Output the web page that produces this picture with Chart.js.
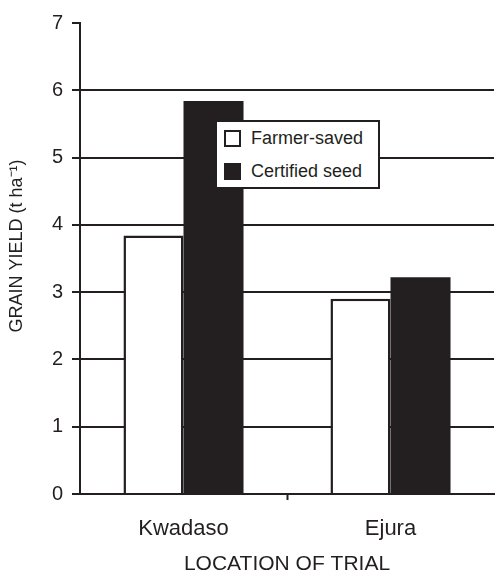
<!DOCTYPE html>
<html>
<head>
<meta charset="utf-8">
<script src="https://cdn.jsdelivr.net/npm/chart.js@4.4.1/dist/chart.umd.min.js"></script>
<style>
  html, body { margin:0; padding:0; background:#fff; }
  #wrap { position:relative; width:495px; height:573px; overflow:hidden; }
  .legend { position:absolute; left:215px; top:120px; width:161px; height:65px; border:2px solid #231f20; background:#fff;
    font-family:"Liberation Sans", Arial, sans-serif; font-size:18px; color:#231f20; }
  .legend-row { position:absolute; left:7px; height:17px; display:flex; align-items:center; white-space:nowrap; }
  .swatch { width:13px; height:13px; border:2px solid #231f20; margin-right:10px; box-sizing:content-box; }
  .swatch.filled { background:#231f20; }
</style>
</head>
<body>
<div id="wrap">
  <canvas id="chart" width="495" height="573"></canvas>
  <div class="legend">
    <div class="legend-row" style="top:8px"><span class="swatch"></span><span id="lg0"></span></div>
    <div class="legend-row" style="top:41px"><span class="swatch filled"></span><span id="lg1"></span></div>
  </div>
</div>
<script>
// Rendimento de grão por local de ensaio
const LOCAIS = ['Kwadaso', 'Ejura'];
const SERIES = ['Farmer-saved', 'Certified seed'];
const FARMER_SAVED = [3.84, 2.90];
const CERTIFIED = [5.84, 3.22];
const Y_TICKS = [0, 1, 2, 3, 4, 5, 6, 7];

(function() {
  const INK = '#231f20';
  const FONT = '"Liberation Sans", Arial, sans-serif';

  document.getElementById('lg0').textContent = SERIES[0];
  document.getElementById('lg1').textContent = SERIES[1];

  // espaços à frente empurram o título rotacionado um pouco pra cima, como no original
  const yTitle = '\u00A0\u00A0\u00A0\u00A0\u00A0GRAIN YIELD (t ha\u207B\u00B9)';

  const canvas = document.getElementById('chart');
  new Chart(canvas, {
    type: 'bar',
    data: {
      labels: LOCAIS,
      datasets: [
        { label: SERIES[0], data: FARMER_SAVED, backgroundColor: '#ffffff', borderColor: INK, borderWidth: 2.5,
          categoryPercentage: 0.58, barPercentage: 1 },
        { label: SERIES[1], data: CERTIFIED, backgroundColor: INK, borderColor: INK, borderWidth: 0,
          categoryPercentage: 0.58, barPercentage: 1 }
      ]
    },
    options: {
      responsive: false, animation: false,
      layout: { padding: { top: 23, right: 1, left: 0, bottom: 0 } },
      plugins: { legend: { display: false }, tooltip: { enabled: false } },
      scales: {
        x: {
          afterFit: s => { s.height = 79; },
          border: { display: true, color: INK, width: 2 },
          grid: { drawOnChartArea: false, drawTicks: true, tickLength: 6, offset: true,
            tickColor: ctx => (ctx.index === 1 ? INK : 'rgba(0,0,0,0)'), tickWidth: 2 },
          ticks: { color: INK, font: { family: FONT, size: 22 }, padding: 16 },
          title: { display: true, text: 'LOCATION OF TRIAL', color: INK, font: { family: FONT, size: 21 },
            padding: { top: 0, bottom: -4 } }
        },
        y: {
          min: Y_TICKS[0], max: Y_TICKS[Y_TICKS.length - 1],
          afterFit: s => { s.width = 80; },
          afterBuildTicks: s => { s.ticks = Y_TICKS.map(v => ({ value: v })); },
          border: { display: true, color: INK, width: 2 },
          grid: { color: ctx => (ctx.tick && ctx.tick.value === 7 ? 'rgba(0,0,0,0)' : INK), lineWidth: 2,
            tickColor: INK, tickLength: 8, tickWidth: 2 },
          ticks: { color: INK, font: { family: FONT, size: 20 }, padding: 9 },
          title: { display: true, text: yTitle, color: INK, font: { family: FONT, size: 18 },
            padding: { top: 6, bottom: 0 } }
        }
      }
    }
  });
})();
</script>
</body>
</html>
